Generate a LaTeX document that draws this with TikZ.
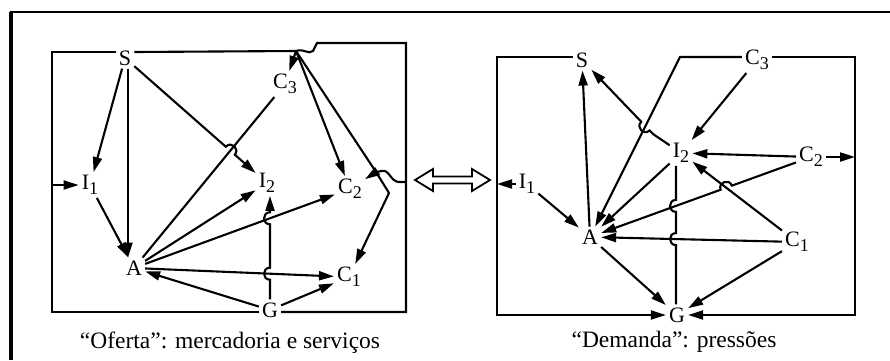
\documentclass[tikz,border=0pt]{standalone}
\usepackage{fontspec}
\setmainfont{Liberation Serif}
\usetikzlibrary{arrows.meta,calc}
\newcommand\lbl[2]{#1\raisebox{-0.5ex}{\fontsize{18}{18}\selectfont #2}}
% hop over a crossing: name, crossing point, from, to, side angle
\newcommand\mkhop[5]{%
  \coordinate (#1a) at ($(#2)!6pt!(#3)$);
  \coordinate (#1b) at ($(#2)!6pt!(#4)$);
  \coordinate (#1c) at ($(#1a)!8pt!#5:(#1b)$);
  \coordinate (#1d) at ($(#1b)+(#1c)-(#1a)$);
}
\begin{document}
\begin{tikzpicture}[x=1pt,y=-1pt,
  lab/.style={font=\fontsize{22}{22}\selectfont, inner sep=3pt},
  ln/.style={line width=2.1pt},
  arr/.style={line width=2.1pt,-{Triangle[length=15pt,width=9pt]}},
  captext/.style={font=\fontsize{23.5}{23.5}\selectfont, inner sep=0pt}]
\useasboundingbox (0,0) rectangle (890,360);

% outer frame
\draw[line width=3.2pt] (11,360) -- (11,12);
\draw[line width=2.4pt] (9.5,12) -- (890,12);

% ===== left diagram =====
\node[lab] (lS) at (125,58) {S};
\node[lab] (lC3) at (285,84) {\lbl{C}{3}};
\node[lab] (lI1) at (90,185) {\lbl{I}{1}};
\node[lab] (lI2) at (267,183) {\lbl{I}{2}};
\node[lab] (lC2) at (350,189) {\lbl{C}{2}};
\node[lab] (lA) at (134,268) {A};
\node[lab] (lC1) at (349,277) {\lbl{C}{1}};
\node[lab] (lG) at (270,310) {G};

\coordinate (lTL) at (52,52);
\coordinate (lBL) at (52,312);
\coordinate (lBR) at (406,312);
\coordinate (lTR) at (406,43);
\coordinate (lJ1) at (296,51);
\coordinate (lJ2) at (376,172);
\coordinate (lJ3) at (389,193);
\coordinate (lR) at (406,182);

\draw[ln] (lS.west |- lTL) -- (lTL) -- (lBL) -- (lG.west |- lBL);
\draw[ln] (lS.east |- lTL) -- (lJ1) .. controls (304,48) and (308,55) .. (313,51) -- (317,43) -- (lTR) -- (lBR) -- (lG.east |- lBR);
\draw[arr] (lJ1) -- (lC3);
\draw[arr] (lJ1) -- (lC2);
\draw[ln] (lJ1) -- (lJ2) -- (lJ3);
\draw[arr] (lJ3) -- (lC1);
\draw[arr] (lJ2) -- (lC2);
\draw[ln] (lR) -- (399,182) .. controls (391,182) and (389,169) .. (382,171) -- (lJ2);

\draw[arr] (lTL |- lI1) -- (lI1);
\draw[arr] (lS) -- (lI1);
\draw[arr] ([xshift=3pt]lS.south) -- ([xshift=-6pt]lA.north);
\draw[ln] (lC3) -- (lA);
\coordinate (lx1) at (intersection of lS--lI2 and lC3--lA);
\mkhop{lh1}{lx1}{lS}{lI2}{90}
\draw[arr] (lS) -- (lh1a) .. controls (lh1c) and (lh1d) .. (lh1b) -- (lI2);
\draw[arr] (lI1) -- (lA);
\draw[arr] (lA) -- (lI2);
\draw[arr] (lA) -- (lC2);
\draw[arr] (lA) -- (lC1);
\draw[arr] (lG) -- (lA);
\draw[arr] (lG) -- (lC1);
\coordinate (lGt) at (lG.north);
\coordinate (lI2b) at (lG.north |- lI2.south);
\coordinate (lx2) at (intersection of lGt--lI2b and lA--lC1);
\coordinate (lx3) at (intersection of lGt--lI2b and lA--lC2);
\mkhop{lh2}{lx2}{lGt}{lI2b}{90}
\mkhop{lh3}{lx3}{lGt}{lI2b}{90}
\draw[arr] (lGt) -- (lh2a) .. controls (lh2c) and (lh2d) .. (lh2b) -- (lh3a) .. controls (lh3c) and (lh3d) .. (lh3b) -- (lI2b);

\node[captext] (capL) at (230,343) {“Oferta”: mercadoria e serviços};

% double hollow arrow
\draw[line width=1.8pt] (415,180) -- (433,169) -- (433,176.5) -- (472,176.5) -- (472,169) -- (490,180) -- (472,191) -- (472,183.5) -- (433,183.5) -- (433,191) -- cycle;

% ===== right diagram =====
\node[lab] (rS) at (582,60) {S};
\node[lab] (rC3) at (757,60) {\lbl{C}{3}};
\node[lab] (rI2) at (681,153) {\lbl{I}{2}};
\node[lab] (rC2) at (811,157) {\lbl{C}{2}};
\node[lab] (rI1) at (527,184) {\lbl{I}{1}};
\node[lab] (rA) at (590,237) {A};
\node[lab] (rC1) at (797,242) {\lbl{C}{1}};
\node[lab] (rG) at (677,315) {G};

\coordinate (rTL) at (497,57);
\coordinate (rBL) at (497,315);
\coordinate (rTR) at (855,57);
\coordinate (rBR) at (855,315);
\coordinate (rK) at (680,57);

\draw[arr] (rS.west |- rTL) -- (rTL) -- (rBL) -- (rG);
\draw[arr] (rC3.east |- rTR) -- (rTR) -- (rBR) -- (rG);
\draw[arr] (rC3.west |- rTR) -- (rK) -- (rA);
\draw[arr] (rI1) -- (rTL |- rI1);
\draw[arr] (rC2) -- (rTR |- rC2);
\draw[arr] (rA) -- (rS);
\draw[arr] (rC3) -- (rI2);
\draw[arr] (rC2) -- (rI2);
\draw[arr] (rC1) -- (rI2);
\draw[arr] (rI2) -- (rA);
\draw[arr] (rC1) -- (rA);
\draw[arr] (rC1) -- (rG);
\draw[arr] (rA) -- (rG);
\draw[arr] (rI1) -- (rA);
\coordinate (rx1) at (intersection of rC2--rA and rC1--rI2);
\mkhop{rh1}{rx1}{rC2}{rA}{-90}
\draw[arr] (rC2) -- (rh1a) .. controls (rh1c) and (rh1d) .. (rh1b) -- (rA);
\coordinate (rI2t) at ([xshift=-5pt]rI2.south);
\coordinate (rGb) at (rI2t |- rG.north);
\coordinate (rx2) at (intersection of rI2t--rGb and rC2--rA);
\coordinate (rx3) at (intersection of rI2t--rGb and rC1--rA);
\mkhop{rh2}{rx2}{rI2t}{rGb}{-90}
\mkhop{rh3}{rx3}{rI2t}{rGb}{-90}
\draw[ln] (rI2t) -- (rh2a) .. controls (rh2c) and (rh2d) .. (rh2b) -- (rh3a) .. controls (rh3c) and (rh3d) .. (rh3b) -- (rGb);
\coordinate (rk2) at (653,134);
\coordinate (rx4) at (intersection of rk2--rS and rK--rA);
\mkhop{rh4}{rx4}{rk2}{rS}{90}
\draw[arr] (rI2) -- (rk2) -- (rh4a) .. controls (rh4c) and (rh4d) .. (rh4b) -- (rS);

\node[captext] (capR) at (674,342) {“Demanda”: pressões};
\end{tikzpicture}
\end{document}
